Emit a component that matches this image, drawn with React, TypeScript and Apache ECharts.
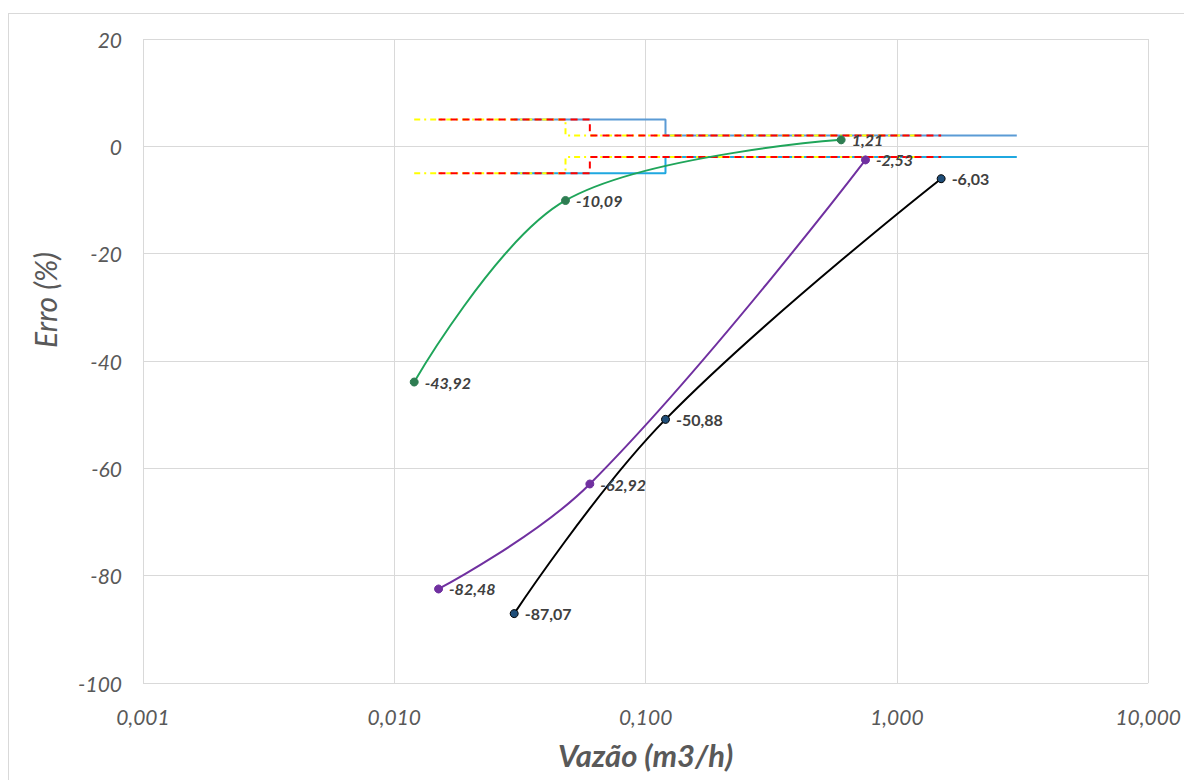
import React, { useEffect, useRef } from "react";
import * as echarts from "echarts";

// Measured meter curves (x = flow m3/h, y = error %)
const greenX = [0.012, 0.048, 0.6];
const greenY = [-43.92, -10.09, 1.21];
const purpleX = [0.015, 0.06, 0.75];
const purpleY = [-82.48, -62.92, -2.53];
const blackX = [0.03, 0.12, 1.5];
const blackY = [-87.07, -50.88, -6.03];

// Error limit envelopes
const yellowLimX = [0.012, 0.048, 0.048, 1.2];
const redLimX = [0.015, 0.06, 0.06, 1.5];
const blueLimX = [0.03, 0.12, 0.12, 3];
const upperLimY = [5, 5, 2, 2];
const lowerLimY = [-5, -5, -2, -2];

const yTicks = { min: -100, max: 20, interval: 20 };
const xRange = { min: 0.001, max: 10 };

const FONT = "Lato, 'Open Sans', sans-serif";

const zip = (xs: number[], ys: number[]) => xs.map((x, i) => [x, ys[i]]);
const fmt = (v: number) => v.toFixed(2).replace(".", ",");

export default function App() {
  const ref = useRef<HTMLDivElement>(null);
  useEffect(() => {
    if (!ref.current) return;
    const chart = echarts.init(ref.current, null, { renderer: "svg" });

    const limitSeries = (
      data: number[][],
      color: string,
      type: any,
      width: number
    ) => ({
      type: "line",
      data,
      showSymbol: false,
      symbol: "none",
      silent: true,
      lineStyle: { color, width, type },
      z: 2,
    });

    const dataSeries = (
      data: number[][],
      lineColor: string,
      markerColor: string,
      borderColor: string,
      italic: boolean,
      smooth: number
    ) => ({
      type: "line",
      data,
      smooth,
      symbol: "circle",
      symbolSize: 8,
      lineStyle: { color: lineColor, width: 2 },
      itemStyle: { color: markerColor, borderColor, borderWidth: 1 },
      label: {
        show: true,
        position: "right",
        distance: 6,
        formatter: (p: any) => fmt(p.value[1]),
        fontFamily: FONT,
        fontSize: 16,
        fontWeight: "bold",
        fontStyle: italic ? "italic" : "normal",
        color: "#404040",
      },
      z: 5,
    });

    chart.setOption({
      animation: false,
      backgroundColor: "#ffffff",
      grid: { left: 143, top: 39, right: 27, bottom: 97, containLabel: false },
      xAxis: {
        type: "log",
        logBase: 10,
        min: xRange.min,
        max: xRange.max,
        name: "Vazão (m3/h)",
        nameLocation: "middle",
        nameGap: 56,
        nameTextStyle: {
          fontFamily: FONT,
          fontSize: 31,
          fontWeight: "bold",
          fontStyle: "italic",
          color: "#595959",
        },
        axisLine: { show: false },
        axisTick: { show: false },
        axisLabel: {
          margin: 23,
          fontFamily: FONT,
          fontSize: 21,
          fontStyle: "italic",
          color: "#595959",
          formatter: (v: number) => v.toFixed(3).replace(".", ","),
        },
        splitLine: { show: true, lineStyle: { color: "#D9D9D9", width: 1 } },
      },
      yAxis: {
        type: "value",
        min: yTicks.min,
        max: yTicks.max,
        interval: yTicks.interval,
        axisLine: { show: false },
        axisTick: { show: false },
        axisLabel: {
          margin: 21,
          fontFamily: FONT,
          fontSize: 21,
          fontStyle: "italic",
          color: "#595959",
        },
        splitLine: { show: true, lineStyle: { color: "#D9D9D9", width: 1 } },
      },
      graphic: [
        {
          type: "line",
          shape: { x1: 8, y1: 13.5, x2: 1184, y2: 13.5 },
          style: { stroke: "#D9D9D9", lineWidth: 1 },
          silent: true,
        },
        {
          type: "line",
          shape: { x1: 8.5, y1: 13, x2: 8.5, y2: 780 },
          style: { stroke: "#D9D9D9", lineWidth: 1 },
          silent: true,
        },
        {
          type: "text",
          x: 45,
          y: 300,
          rotation: Math.PI / 2,
          style: {
            text: "Erro (%)",
            x: 0,
            y: 0,
            align: "center",
            verticalAlign: "middle",
            fontFamily: FONT,
            fontSize: 30,
            fontStyle: "italic",
            fill: "#595959",
          },
          silent: true,
        },
      ],
      series: [
        limitSeries(zip(blueLimX, upperLimY), "#5B9BD5", "solid", 2),
        limitSeries(zip(blueLimX, lowerLimY), "#1FA8E0", "solid", 2),
        limitSeries(zip(yellowLimX, upperLimY), "#FFFF00", [6, 4, 2, 4], 2),
        limitSeries(zip(yellowLimX, lowerLimY), "#FFFF00", [6, 4, 2, 4], 2),
        limitSeries(zip(redLimX, upperLimY), "#FF0000", [7, 5], 2),
        limitSeries(zip(redLimX, lowerLimY), "#FF0000", [7, 5], 2),
        dataSeries(zip(greenX, greenY), "#1FA55A", "#2E7D52", "#2E7D52", true, 0.35),
        dataSeries(zip(purpleX, purpleY), "#7030A0", "#7030A0", "#7030A0", true, 0.4),
        dataSeries(zip(blackX, blackY), "#000000", "#1F4E79", "#000000", false, 0.4),
      ],
    });
    return () => chart.dispose();
  }, []);
  return (
    <div
      ref={ref}
      style={{ position: "absolute", left: 0, top: 0, width: 1184, height: 780 }}
    />
  );
}
